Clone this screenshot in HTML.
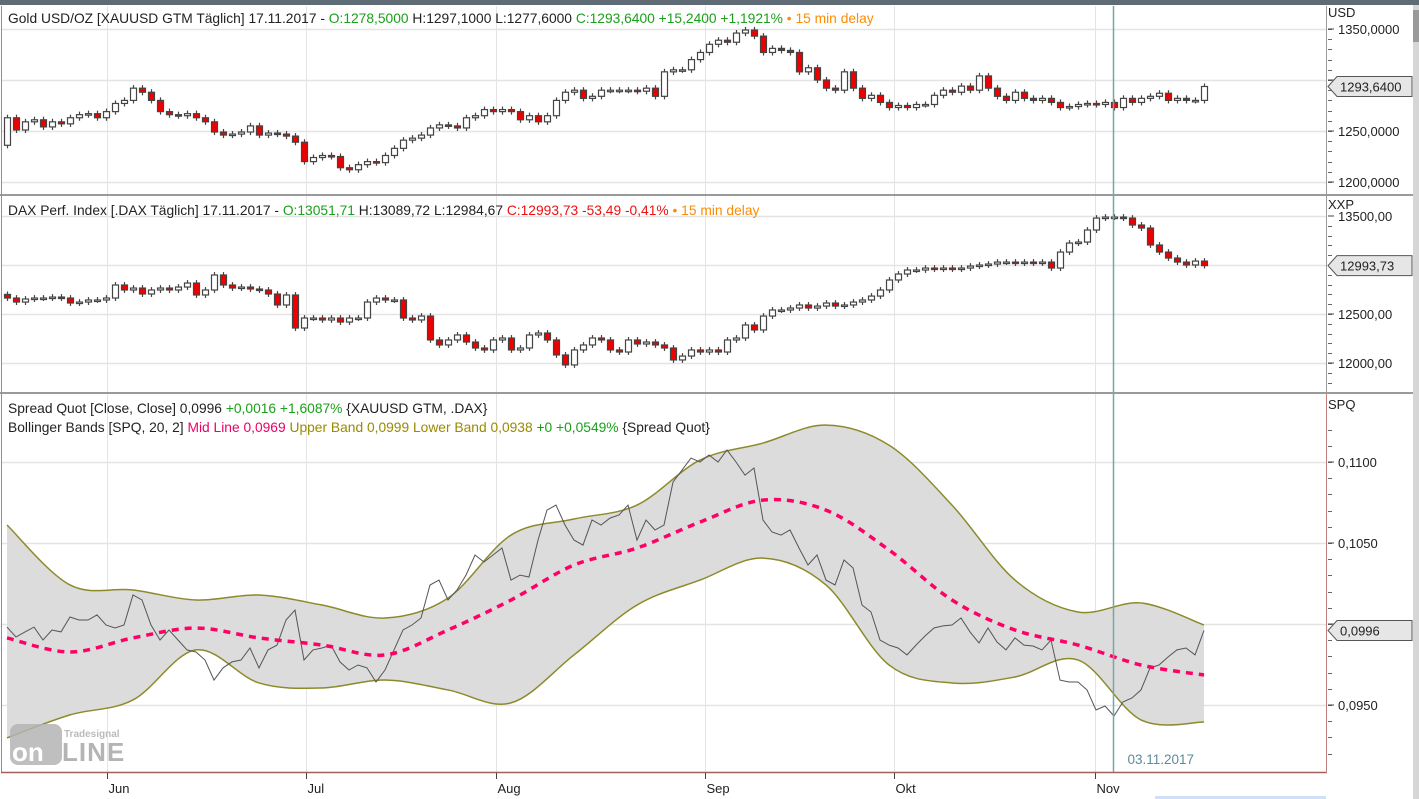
<!DOCTYPE html>
<html><head><meta charset="utf-8"><style>
html,body{margin:0;padding:0;background:#fff;}
svg{display:block;font-family:"Liberation Sans",sans-serif;}
</style></head><body>
<svg id="c" width="1419" height="799" viewBox="0 0 1419 799" xmlns="http://www.w3.org/2000/svg">
<rect x="0" y="0" width="1419" height="799" fill="#fff"/>
<rect x="0" y="0" width="1419" height="5" fill="#5f6b75"/>
<rect x="1413" y="5" width="6" height="794" fill="#d6d6d6"/>
<rect x="1413" y="10" width="6" height="32" fill="#9a9a9a"/>
<g id="grid"></g>
<g id="p3"></g>
<g id="p1"></g>
<g id="p2"></g>
<g id="frame"></g>
<g id="axes"></g>
<g>
<rect x="10" y="724" width="52" height="41" rx="8" fill="#b4b4b4" opacity="0.85"/>
<text x="64" y="737" font-size="10" font-weight="bold" fill="#bbb">Tradesignal</text>
<text x="12" y="761" font-size="26" font-weight="bold" fill="#fff">on</text>
<text x="62" y="761" font-size="26" font-weight="bold" fill="#b4b4b4" letter-spacing="1">LINE</text>
</g>
<g id="hdr" font-size="13.8">
<text x="8" y="23"><tspan fill="#222">Gold USD/OZ [XAUUSD GTM Täglich] 17.11.2017 - </tspan><tspan fill="#1aa01a">O:1278,5000 </tspan><tspan fill="#222">H:1297,1000 L:1277,6000 </tspan><tspan fill="#1aa01a">C:1293,6400 +15,2400 +1,1921% </tspan><tspan fill="#ff8c00">• 15 min delay</tspan></text>
<text x="8" y="215"><tspan fill="#222">DAX Perf. Index [.DAX Täglich] 17.11.2017 - </tspan><tspan fill="#1aa01a">O:13051,71 </tspan><tspan fill="#222">H:13089,72 L:12984,67 </tspan><tspan fill="#ee1111">C:12993,73 -53,49 -0,41% </tspan><tspan fill="#ff8c00">• 15 min delay</tspan></text>
<text x="8" y="413"><tspan fill="#222">Spread Quot [Close, Close] 0,0996 </tspan><tspan fill="#1aa01a">+0,0016 +1,6087% </tspan><tspan fill="#222">{XAUUSD GTM, .DAX}</tspan></text>
<text x="8" y="432"><tspan fill="#222">Bollinger Bands [SPQ, 20, 2] </tspan><tspan fill="#ee0066">Mid Line 0,0969 </tspan><tspan fill="#9a8a00">Upper Band 0,0999 Lower Band 0,0938 </tspan><tspan fill="#1aa01a">+0 +0,0549% </tspan><tspan fill="#222">{Spread Quot}</tspan></text>
</g>
</svg>
<script>
// ---------- data ----------
const months = ["Jun","Jul","Aug","Sep","Okt","Nov"];
const monthBarIdx = [11.1,33.2,54.3,77.6,98.6,120.9];
const goldOpen0 = 1236;
const goldClose = [1263,1251,1259,1261,1254,1259,1257,1263,1266,1267,1263,1269,1277,1280,1292,1288,1280,1269,1266,1265,1267,1263,1259,1249,1246,1247,1249,1255,1246,1248,1247,1245,1239,1220,1224,1226,1225,1214,1212,1217,1220,1219,1226,1233,1241,1243,1246,1253,1256,1255,1253,1263,1265,1271,1269,1271,1269,1261,1265,1259,1265,1280,1288,1290,1282,1284,1290,1290,1290,1290,1289,1292,1284,1308,1310,1310,1320,1327,1335,1339,1337,1346,1349,1343,1327,1331,1329,1327,1308,1312,1300,1292,1290,1308,1292,1282,1285,1278,1273,1275,1273,1276,1276,1285,1290,1288,1294,1290,1304,1292,1284,1280,1288,1282,1280,1282,1278,1273,1274,1276,1277,1276,1278,1273,1282,1278,1282,1284,1287,1280,1282,1280,1280,1293.64];
const daxOpen0 = 12700;
const daxClose = [12663,12622,12653,12663,12663,12673,12663,12612,12622,12643,12643,12663,12796,12745,12765,12704,12745,12765,12745,12775,12816,12694,12745,12898,12796,12765,12775,12755,12745,12704,12592,12694,12357,12459,12459,12439,12459,12418,12459,12459,12622,12663,12643,12643,12459,12439,12479,12235,12184,12235,12286,12214,12153,12133,12235,12255,12133,12153,12286,12306,12235,12082,11980,12133,12184,12255,12235,12133,12112,12235,12194,12214,12184,12153,12031,12071,12133,12112,12133,12112,12235,12255,12388,12337,12479,12541,12541,12561,12592,12561,12581,12612,12581,12592,12622,12643,12683,12745,12847,12908,12949,12949,12969,12959,12969,12959,12969,12989,13000,13010,13030,13030,13020,13030,13020,13030,12969,13132,13224,13234,13357,13479,13489,13489,13479,13408,13377,13204,13132,13071,13030,13000,13040,12993.73];
const spread = [0.09981,0.09920,0.09951,0.09981,0.09901,0.09963,0.09951,0.10043,0.10025,0.10025,0.10056,0.09994,0.09975,0.09994,0.10179,0.10148,0.09994,0.09901,0.09963,0.09901,0.09840,0.09827,0.09778,0.09654,0.09729,0.09766,0.09778,0.09852,0.09729,0.09840,0.09870,0.10025,0.10086,0.09778,0.09840,0.09852,0.09870,0.09766,0.09716,0.09747,0.09729,0.09642,0.09716,0.09840,0.09963,0.09994,0.10037,0.10241,0.10271,0.10148,0.10210,0.10302,0.10426,0.10383,0.10426,0.10469,0.10271,0.10302,0.10290,0.10518,0.10703,0.10734,0.10611,0.10518,0.10487,0.10642,0.10611,0.10654,0.10673,0.10734,0.10518,0.10642,0.10580,0.10611,0.10876,0.10950,0.11024,0.11000,0.11043,0.11000,0.11074,0.11000,0.10919,0.10963,0.10642,0.10568,0.10549,0.10580,0.10469,0.10364,0.10426,0.10271,0.10241,0.10395,0.10346,0.10117,0.10074,0.09901,0.09870,0.09852,0.09809,0.09870,0.09926,0.09975,0.09988,0.09994,0.10037,0.09951,0.09883,0.09975,0.09889,0.09840,0.09914,0.09870,0.09864,0.09840,0.09901,0.09654,0.09642,0.09642,0.09593,0.09469,0.09494,0.09432,0.09519,0.09543,0.09593,0.09729,0.09747,0.09796,0.09840,0.09852,0.09809,0.09960];
const bandStep = 7;
const upperBand = [0.10611,0.10241,0.10210,0.10148,0.10179,0.10117,0.10037,0.10160,0.10549,0.10648,0.10734,0.11012,0.11117,0.11228,0.11104,0.10734,0.10271,0.10074,0.10130,0.09994];
const lowerBand = [0.09297,0.09439,0.09531,0.09840,0.09636,0.09605,0.09654,0.09593,0.09513,0.09809,0.10117,0.10271,0.10407,0.10241,0.09747,0.09636,0.09673,0.09778,0.09408,0.09395];
const midLine = [0.09914,0.09827,0.09914,0.09975,0.09914,0.09870,0.09809,0.09963,0.10148,0.10364,0.10469,0.10629,0.10765,0.10703,0.10457,0.10148,0.09963,0.09870,0.09747,0.09685];
const goldTicks = [1200,1250,1300,1350];
const daxTicks = [12000,12500,13000,13500];
const spqTicks = [0.095,0.100,0.105,0.110];
const cursorIdx = 122.9;
const cursorLabel = "03.11.2017";

// ---------- scales ----------
const NS="http://www.w3.org/2000/svg";
const PL=2, PR=1326, BAR=9, X0=7;
const xAt = i => X0 + i*BAR;
const yGold = v => 80 - (v-1300)*1.02;
const yDax = v => 363 - (v-12000)*0.098;
const ySpq = v => 624 - (v-0.1)*16200;
function mk(tag, attrs, parent){const e=document.createElementNS(NS,tag);for(const k in attrs)e.setAttribute(k,attrs[k]);parent.appendChild(e);return e;}
const G=id=>document.getElementById(id);

// ---------- grid ----------
const panels=[[6,194],[196,392],[394,772]];
monthBarIdx.forEach((bi,k)=>{
  const x = Math.round(xAt(bi))+0.5;
  panels.forEach(p=>{
    const l=mk('line',{x1:x,x2:x,y1:p[0],y2:p[1],stroke:'#e4e4e4','stroke-width':1},G('grid'));
    
    
  });
});
function hgrid(ticks, yf){
  ticks.forEach(t=>{const y=Math.round(yf(t))+0.5;
    const l=mk('line',{x1:PL,x2:PR,y1:y,y2:y,stroke:'#e4e4e4','stroke-width':1.5},G('grid'));
    
    
  });
}
hgrid(goldTicks,yGold);hgrid(daxTicks,yDax);hgrid(spqTicks,ySpq);

// ---------- candles ----------
function candles(closes, open0, yf, wick, parent, name){
  let prev=open0;
  closes.forEach((c,i)=>{
    const o=prev; prev=c;
    const x=xAt(i);
    const hi=Math.max(o,c)+wick, lo=Math.min(o,c)-wick;
    const g=mk('g',{},parent);
    
    
    mk('line',{x1:x+0.5,x2:x+0.5,y1:yf(hi),y2:yf(lo),stroke:'#444','stroke-width':1.2},g);
    const top=Math.min(yf(o),yf(c)), h=Math.max(1.5,Math.abs(yf(o)-yf(c)));
    mk('rect',{x:x-2.5,y:top,width:6,height:h,fill:c<o?'#ee0000':'#fff',stroke:'#444','stroke-width':1.2},g);
  });
}
candles(goldClose, goldOpen0, yGold, 3, G('p1'), 'gold');
candles(daxClose, daxOpen0, yDax, 30, G('p2'), 'dax');

// ---------- spread panel ----------
function smooth(pts){
  let d='M'+pts[0][0]+','+pts[0][1];
  for(let i=0;i<pts.length-1;i++){
    const p0=pts[Math.max(0,i-1)],p1=pts[i],p2=pts[i+1],p3=pts[Math.min(pts.length-1,i+2)];
    const c1=[p1[0]+(p2[0]-p0[0])/6,p1[1]+(p2[1]-p0[1])/6];
    const c2=[p2[0]-(p3[0]-p1[0])/6,p2[1]-(p3[1]-p1[1])/6];
    d+=` C${c1[0]},${c1[1]} ${c2[0]},${c2[1]} ${p2[0]},${p2[1]}`;
  }
  return d;
}
const up=upperBand.map((v,i)=>[xAt(i*bandStep),ySpq(v)]);
const lw=lowerBand.map((v,i)=>[xAt(i*bandStep),ySpq(v)]);
const md=midLine.map((v,i)=>[xAt(i*bandStep),ySpq(v)]);
const upD=smooth(up), lwRev=smooth(lw.slice().reverse());
const fill=mk('path',{d:upD+' L'+lwRev.slice(1)+' Z',fill:'#dcdcdc',stroke:'none'},G('p3'));


const ub=mk('path',{d:upD,fill:'none',stroke:'#8d8a2a','stroke-width':1.5},G('p3'));


const lb=mk('path',{d:smooth(lw),fill:'none',stroke:'#8d8a2a','stroke-width':1.5},G('p3'));


const sl=mk('polyline',{points:spread.map((v,i)=>xAt(i)+','+ySpq(v).toFixed(1)).join(' '),fill:'none',stroke:'#555','stroke-width':1},G('p3'));


const ml=mk('path',{d:smooth(md),fill:'none',stroke:'#ff0066','stroke-width':3.5,'stroke-dasharray':'7 6'},G('p3'));



// ---------- frame ----------
[[194,196],[392,394]].forEach(s=>{
  const r=mk('rect',{x:0,y:s[0],width:1413,height:2,fill:'#9a9a9a'},G('frame'));
  
  
});
const lft=mk('line',{x1:1.5,x2:1.5,y1:6,y2:773,stroke:'#b08080','stroke-width':1},G('frame'));


const bot=mk('line',{x1:1,x2:1327,y1:772.5,y2:772.5,stroke:'#a06060','stroke-width':1.5},G('frame'));


const rax1=mk('line',{x1:PR+0.5,x2:PR+0.5,y1:6,y2:394,stroke:'#999','stroke-width':1},G('frame'));


const rax2=mk('line',{x1:PR+0.5,x2:PR+0.5,y1:394,y2:773,stroke:'#c08080','stroke-width':1},G('frame'));


const cxp=Math.round(xAt(cursorIdx))+0.5;
const cur=mk('line',{x1:cxp,x2:cxp,y1:6,y2:772,stroke:'#78a6a6','stroke-width':1.5},G('frame'));


const cl=mk('text',{x:cxp+14,y:764,'font-size':13.5,fill:'#5a8c9a'},G('frame'));
cl.textContent=cursorLabel;



// ---------- axes ----------
const A=G('axes');
function yaxis(ticks, yf, fmt, unit, unitY, minor, yTop, yBot, tagY){
  const u=mk('text',{x:1328,y:unitY,'font-size':13,fill:'#222'},A);
  u.textContent=unit;
  
  
  const lo=ticks[0]-minor*10, hi=ticks[ticks.length-1]+minor*10;
  for(let v=lo; v<=hi+1e-9; v+=minor){
    const y=Math.round(yf(v))+0.5; if(y<yTop||y>yBot) continue;
    mk('line',{x1:1328,x2:1332,y1:y,y2:y,stroke:'#666','stroke-width':1},A);
  }
  ticks.forEach(t=>{const y=yf(t);
    mk('line',{x1:1328,x2:1334,y1:y,y2:y,stroke:'#444','stroke-width':1},A);
    if(Math.abs(y-tagY)<15) return;
    const tx=mk('text',{x:1338,y:y+5,'font-size':13,fill:'#222'},A);
    tx.textContent=fmt(t);
    
    
  });
}
const de=(v,d)=>v.toFixed(d).replace('.',',');
const gTag=yGold(goldClose[goldClose.length-1]), dTag=yDax(daxClose[daxClose.length-1]), sTag=ySpq(spread[spread.length-1]);
yaxis(goldTicks,yGold,v=>de(v,4),'USD',17,10,20,192,gTag);
yaxis(daxTicks,yDax,v=>de(v,2),'XXP',209,100,220,390,dTag);
yaxis(spqTicks,ySpq,v=>de(v,4),'SPQ',409,0.001,415,770,sTag);
function priceTag(y, txt, name){
  const g=mk('g',{},A);
  
  
  mk('path',{d:`M1328,${y} L1337,${y-10} L1412,${y-10} L1412,${y+10} L1337,${y+10} Z`,fill:'#e6e6e6',stroke:'#555','stroke-width':1},g);
  const t=mk('text',{x:1340,y:y+5,'font-size':13,fill:'#222'},g);
  t.textContent=txt;
}
priceTag(gTag,'1293,6400','gold-last-price-tag');
priceTag(dTag,'12993,73','dax-last-price-tag');
priceTag(sTag,'0,0996','spread-last-value-tag');
months.forEach((m,k)=>{
  const x=Math.round(xAt(monthBarIdx[k]))+0.5;
  mk('line',{x1:x,x2:x,y1:773,y2:779,stroke:'#444','stroke-width':1},A);
  const t=mk('text',{x:x+1,y:793,'font-size':13,fill:'#222'},A);
  t.textContent=m;
  
  
});
const blue=mk('rect',{x:1155,y:796,width:171,height:3,fill:'#cfe0f8'},A);


</script>
</body></html>
